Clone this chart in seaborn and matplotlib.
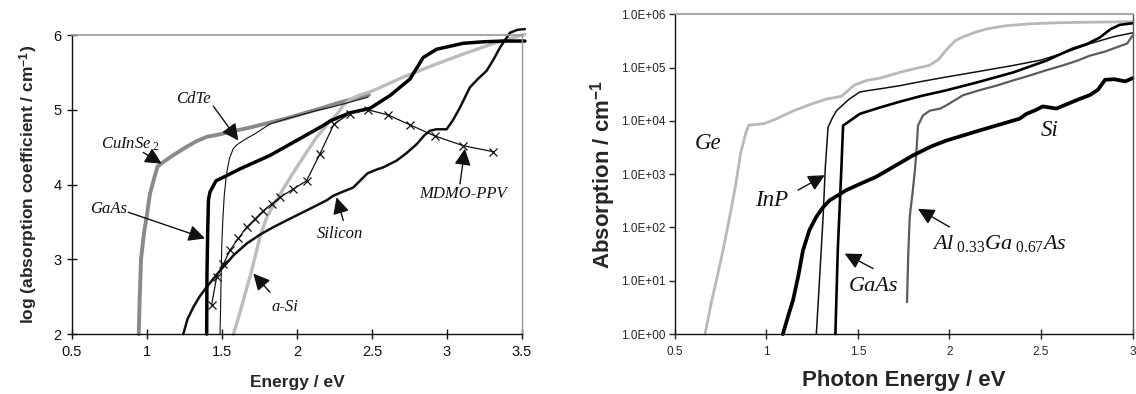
import numpy as np
import pandas as pd
import matplotlib
matplotlib.use("Agg")
import matplotlib.pyplot as plt
import seaborn as sns
from matplotlib.ticker import FuncFormatter, FixedLocator, NullLocator
from matplotlib.patches import ArrowStyle

# ---------------- data: left panel (log10 absorption coefficient vs energy) ----------------
cuinse2_E = [0.945, 0.95, 0.96, 0.98, 1.0, 1.02, 1.05, 1.07, 1.10, 1.18, 1.26, 1.33, 1.40, 1.48,
             1.565, 1.68, 1.80, 1.92, 2.04, 2.16, 2.27, 2.38, 2.48]
cuinse2_L = [2.0, 2.4, 3.0, 3.35, 3.6, 3.88, 4.1, 4.24, 4.29, 4.4, 4.5, 4.58, 4.64, 4.67,
             4.71, 4.76, 4.82, 4.88, 4.95, 5.02, 5.09, 5.15, 5.2]

cdte_E = [1.487, 1.492, 1.498, 1.505, 1.515, 1.53, 1.55, 1.575, 1.598, 1.65, 1.72, 1.82, 1.93,
          2.04, 2.13, 2.22, 2.35, 2.475]
cdte_L = [2.0, 2.5, 3.16, 3.5, 3.85, 4.14, 4.35, 4.48, 4.53, 4.6, 4.68, 4.81, 4.88,
          4.94, 4.99, 5.03, 5.1, 5.17]

gaas1_E = [1.398, 1.40, 1.405, 1.41, 1.42, 1.46, 1.531, 1.62, 1.72, 1.82, 1.998, 2.175, 2.22,
           2.353, 2.487, 2.62, 2.753, 2.842, 2.931, 3.109, 3.242, 3.376, 3.52]
gaas1_L = [2.0, 2.8, 3.4, 3.8, 3.9, 4.05, 4.12, 4.21, 4.3, 4.39, 4.59, 4.79, 4.85,
           4.96, 5.02, 5.19, 5.41, 5.7, 5.81, 5.89, 5.91, 5.92, 5.92]

asi_E = [1.576, 1.61, 1.642, 1.698, 1.753, 1.8, 1.842, 1.92, 1.998, 2.07, 2.13, 2.2, 2.265,
         2.31, 2.353, 2.42, 2.5, 2.7, 2.9, 3.1, 3.3, 3.52]
asi_L = [2.0, 2.22, 2.45, 2.85, 3.3, 3.57, 3.72, 3.98, 4.23, 4.45, 4.63, 4.8, 4.94,
         5.06, 5.14, 5.2, 5.25, 5.43, 5.59, 5.74, 5.88, 6.01]

silicon_E = [1.242, 1.27, 1.309, 1.35, 1.398, 1.45, 1.509, 1.58, 1.664, 1.753, 1.842, 1.93, 2.02,
             2.11, 2.198, 2.242, 2.30, 2.375, 2.42, 2.47, 2.53, 2.575, 2.664, 2.73, 2.798, 2.85,
             2.887, 2.93, 2.998, 3.04, 3.087, 3.153, 3.21, 3.264, 3.31, 3.353, 3.42, 3.47, 3.52]
silicon_L = [2.0, 2.2, 2.36, 2.5, 2.63, 2.76, 2.9, 3.06, 3.21, 3.33, 3.43, 3.52, 3.61,
             3.7, 3.79, 3.85, 3.9, 3.96, 4.05, 4.15, 4.2, 4.23, 4.32, 4.42, 4.54, 4.66,
             4.72, 4.74, 4.74, 4.86, 5.03, 5.3, 5.42, 5.52, 5.67, 5.83, 6.03, 6.07, 6.08]

mdmo_E = [1.431, 1.464, 1.51, 1.553, 1.609, 1.664, 1.72, 1.775, 1.831, 1.887, 1.975, 2.064,
          2.153, 2.247, 2.353, 2.475, 2.609, 2.753, 2.92, 3.109, 3.309]
mdmo_L = [2.39, 2.76, 2.94, 3.12, 3.28, 3.43, 3.54, 3.65, 3.74, 3.83, 3.94, 4.05,
          4.41, 4.81, 4.95, 5.0, 4.93, 4.8, 4.65, 4.52, 4.44]

left_xticks = [0.5, 1, 1.5, 2, 2.5, 3, 3.5]
left_yticks = [2, 3, 4, 5, 6]

# ---------------- data: right panel (absorption, read as log10 decades) ----------------
ge_E = [0.665, 0.70, 0.73, 0.765, 0.80, 0.83, 0.86, 0.89, 0.905, 0.94, 0.99, 1.05, 1.15, 1.25,
        1.33, 1.41, 1.45, 1.48, 1.55, 1.62, 1.73, 1.80, 1.89, 1.94, 1.98, 2.03, 2.07, 2.14,
        2.20, 2.30, 2.44, 2.6, 2.77, 3.0]
ge_dec = [0.0, 0.6, 1.05, 1.6, 2.2, 2.75, 3.4, 3.8, 3.92, 3.93, 3.95, 4.03, 4.19, 4.32,
          4.41, 4.46, 4.58, 4.67, 4.76, 4.8, 4.91, 4.97, 5.04, 5.15, 5.32, 5.5, 5.57, 5.66,
          5.72, 5.78, 5.82, 5.84, 5.85, 5.86]

inp_E = [1.273, 1.29, 1.31, 1.322, 1.337, 1.36, 1.383, 1.45, 1.51, 1.56, 1.62, 1.73, 1.85,
         1.98, 2.15, 2.35, 2.5, 2.64, 2.77, 2.9, 3.0]
inp_dec = [0.0, 1.0, 2.2, 3.13, 3.88, 4.05, 4.19, 4.4, 4.54, 4.57, 4.6, 4.66, 4.74,
           4.82, 4.92, 5.04, 5.14, 5.29, 5.45, 5.58, 5.65]

gaas2_E = [1.377, 1.39, 1.41, 1.419, 1.44, 1.51, 1.62, 1.73, 1.85, 1.98, 2.15, 2.35, 2.53,
           2.67, 2.75, 2.82, 2.88, 2.93, 3.0]
gaas2_dec = [0.0, 1.57, 3.13, 3.91, 3.96, 4.13, 4.25, 4.36, 4.47, 4.57, 4.72, 4.91, 5.13,
             5.35, 5.44, 5.56, 5.72, 5.8, 5.83]

algaas_E = [1.768, 1.775, 1.783, 1.80, 1.812, 1.82, 1.828, 1.855, 1.892, 1.95, 1.983, 2.074,
            2.16, 2.256, 2.35, 2.438, 2.53, 2.62, 2.70, 2.765, 2.85, 2.93, 2.97, 3.0]
algaas_dec = [0.6, 1.5, 2.2, 2.7, 3.1, 3.45, 3.91, 4.1, 4.19, 4.23, 4.29, 4.48,
              4.57, 4.66, 4.76, 4.85, 4.95, 5.04, 5.13, 5.22, 5.3, 5.4, 5.45, 5.6]

si2_E = [1.09, 1.12, 1.146, 1.175, 1.2, 1.235, 1.273, 1.31, 1.346, 1.437, 1.52, 1.6, 1.70,
         1.8, 1.9, 1.983, 2.165, 2.383, 2.42, 2.47, 2.51, 2.584, 2.71, 2.765, 2.81, 2.85,
         2.90, 2.96, 3.0]
si2_dec = [0.0, 0.35, 0.64, 1.1, 1.57, 1.95, 2.2, 2.38, 2.51, 2.7, 2.83, 2.95, 3.15,
           3.35, 3.52, 3.63, 3.82, 4.04, 4.13, 4.2, 4.27, 4.23, 4.41, 4.48, 4.58, 4.77,
           4.78, 4.74, 4.8]

right_xticks = [0.5, 1, 1.5, 2, 2.5, 3]
right_ydecades = [0, 1, 2, 3, 4, 5, 6]

# ---------------- style ----------------
sns.set_style("ticks")
plt.rcParams['font.family'] = ['Liberation Sans', 'DejaVu Sans']
plt.rcParams['mathtext.fontset'] = 'custom'
plt.rcParams['mathtext.rm'] = 'Liberation Serif'
plt.rcParams['mathtext.it'] = 'Liberation Serif:italic'
plt.rcParams['mathtext.bf'] = 'Liberation Sans:bold'

fig = plt.figure(figsize=(11.36, 3.94), dpi=100)
ax1 = fig.add_axes([0.0634, 0.152, 0.396, 0.759])
ax2 = fig.add_axes([0.594, 0.152, 0.403, 0.812])


def draw(ax, x, y, color, lw, **kw):
    df = pd.DataFrame({'x': x, 'y': y})
    sns.lineplot(data=df, x='x', y='y', ax=ax, sort=False, estimator=None,
                 color=color, linewidth=lw, clip_on=False, **kw)


# left panel curves
draw(ax1, cuinse2_E, cuinse2_L, '#8a8a8a', 2.8)
draw(ax1, asi_E, asi_L, '#bcbcbc', 2.4)
draw(ax1, silicon_E, silicon_L, '#111111', 1.8)
draw(ax1, cdte_E, cdte_L, '#111111', 0.8)
draw(ax1, gaas1_E, gaas1_L, '#000000', 2.5)
draw(ax1, mdmo_E, mdmo_L, '#111111', 0.9, marker='x', markersize=6,
     markeredgewidth=0.9, markeredgecolor='#111111')

# right panel curves
ax2.set_yscale('log')
draw(ax2, ge_E, [10.0 ** v for v in ge_dec], '#b8b8b8', 2.0)
draw(ax2, algaas_E, [10.0 ** v for v in algaas_dec], '#5c5c5c', 1.6)
draw(ax2, inp_E, [10.0 ** v for v in inp_dec], '#111111', 1.1)
draw(ax2, gaas2_E, [10.0 ** v for v in gaas2_dec], '#000000', 1.9)
draw(ax2, si2_E, [10.0 ** v for v in si2_dec], '#000000', 2.7)

# ---------------- axes formatting ----------------
fmt_g = FuncFormatter(lambda v, p: f"{v:g}")

ax1.set_xlim(0.5, 3.5)
ax1.set_ylim(2, 6)
ax1.xaxis.set_major_locator(FixedLocator(left_xticks))
ax1.yaxis.set_major_locator(FixedLocator(left_yticks))
ax1.xaxis.set_major_formatter(fmt_g)
ax1.yaxis.set_major_formatter(fmt_g)
ax1.tick_params(direction='inout', length=7, width=1, labelsize=10.5, colors='#111111', pad=4)
ax1.set_xlabel('Energy / eV', fontsize=12.5, fontweight='bold', labelpad=12)
ax1.set_ylabel(r'log (absorption coefficient / cm$^{\mathbf{-1}}$)', fontsize=12.5,
               fontweight='bold', labelpad=10)

ax2.set_xlim(0.5, 3)
ax2.set_ylim(1, 1e6)
ax2.xaxis.set_major_locator(FixedLocator(right_xticks))
ax2.yaxis.set_major_locator(FixedLocator([10.0 ** d for d in right_ydecades]))
ax2.yaxis.set_minor_locator(NullLocator())
ax2.xaxis.set_major_formatter(fmt_g)
ax2.yaxis.set_major_formatter(FuncFormatter(lambda v, p: f"{v:.1E}"))
ax2.tick_params(axis='x', direction='inout', length=7, width=1, labelsize=8.5, pad=5)
ax2.tick_params(axis='y', direction='out', length=4, width=1, labelsize=8.5, pad=3)
ax2.set_xlabel('Photon Energy / eV', fontsize=16, fontweight='bold', labelpad=9)
ax2.set_ylabel(r'Absorption / cm$^{\mathbf{-1}}$', fontsize=16, fontweight='bold', labelpad=2)

for ax in (ax1, ax2):
    ax.set_facecolor('white')
    for s in ('left', 'bottom'):
        ax.spines[s].set_color('#111111')
        ax.spines[s].set_linewidth(1.0)
    ax.spines['top'].set_color('#9a9a9a')
    ax.spines['top'].set_linewidth(1.2)
    ax.spines['right'].set_linewidth(1.0)
ax1.spines['right'].set_color('#9a9a9a')
ax2.spines['right'].set_color('#555555')

# ---------------- annotations ----------------
astyle = ArrowStyle('-|>', head_length=0.5, head_width=0.25)


def label(ax, txt, xy, size):
    ax.text(xy[0], xy[1], txt, fontsize=size, ha='center', va='center',
            family=['Liberation Serif', 'DejaVu Serif'], style='italic', color='#111111')


def arrow(ax, tail, head):
    ax.annotate('', xy=head, xytext=tail,
                arrowprops=dict(arrowstyle=astyle, color='#111111', lw=1.0,
                                mutation_scale=20, shrinkA=0, shrinkB=0))


label(ax1, 'CdTe', (1.31, 5.14), 12)
arrow(ax1, (1.442, 5.05), (1.609, 4.59))
label(ax1, r'$\mathit{CuInSe}_{\ 2}$', (0.89, 4.54), 12)
arrow(ax1, (0.975, 4.43), (1.098, 4.28))
label(ax1, 'GaAs', (0.742, 3.68), 12)
arrow(ax1, (0.875, 3.63), (1.387, 3.28))
label(ax1, 'Silicon', (2.287, 3.34), 12)
arrow(ax1, (2.309, 3.52), (2.264, 3.83))
label(ax1, 'a-Si', (1.92, 2.36), 12)
arrow(ax1, (1.82, 2.56), (1.709, 2.81))
label(ax1, 'MDMO-PPV', (3.109, 3.88), 12)
arrow(ax1, (3.087, 4.01), (3.12, 4.48))

label(ax2, 'Ge', (0.68, 10 ** 3.57), 16.5)
label(ax2, 'InP', (1.028, 10 ** 2.51), 16.5)
arrow(ax2, (1.173, 10 ** 2.70), (1.319, 10 ** 2.98))
label(ax2, 'GaAs', (1.583, 10 ** 0.89), 16)
arrow(ax2, (1.583, 10 ** 1.23), (1.428, 10 ** 1.51))
label(ax2, r'$\mathit{Al}_{\ \mathit{0.33}}\mathit{Ga}_{\ \mathit{0.67}}\mathit{As}$',
      (2.27, 10 ** 1.70), 16)
arrow(ax2, (2.0, 10 ** 2.01), (1.828, 10 ** 2.35))
label(ax2, 'Si', (2.547, 10 ** 3.82), 16.5)

fig.savefig('out.png', dpi=100, facecolor='white')
